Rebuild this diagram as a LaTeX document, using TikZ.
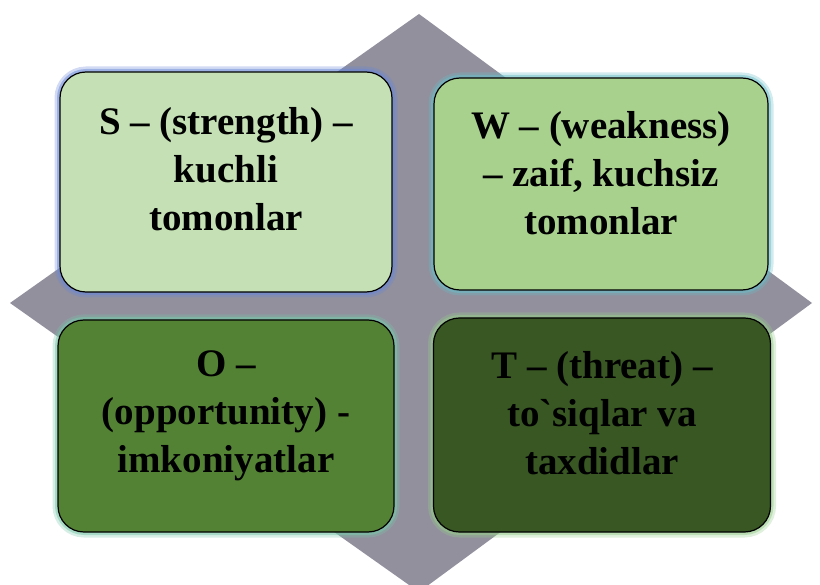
\documentclass[tikz,border=0pt]{standalone}
\usepackage{fontspec}
\newfontfamily\quadfont{Liberation Serif}
\definecolor{diamondgray}{RGB}{146,144,157}
\definecolor{sfill}{RGB}{197,224,180}
\definecolor{wfill}{RGB}{169,209,142}
\definecolor{ofill}{RGB}{84,130,53}
\definecolor{tfill}{RGB}{56,87,35}
\definecolor{sglow}{RGB}{105,135,215}
\definecolor{wglow}{RGB}{105,190,200}
\definecolor{oglow}{RGB}{120,200,170}
\definecolor{tglow}{RGB}{150,205,140}
\tikzset{
  quad/.style={draw=black, line width=1.2pt, rounded corners=26pt, inner sep=0pt},
  quadtext/.style={align=center, font=\quadfont\bfseries\fontsize{39}{48}\selectfont, inner sep=0pt},
  glow/.style={preaction={draw=#1, line width=11pt, opacity=0.3},
               preaction={draw=#1, line width=6pt, opacity=0.5}}
}
\begin{document}
\begin{tikzpicture}[x=1pt,y=-1pt]
            \clip (0,0) rectangle (820,585);
            % grey diamond behind the four boxes
            \fill[diamondgray] (419,14) -- (812,303) -- (419,592) -- (10,303) -- cycle;
            % the four boxes
            \node[quad, glow=sglow, fill=sfill, minimum width=332pt, minimum height=220pt] (s) at (226,182) {};
            \node[quad, glow=wglow, fill=wfill, minimum width=334pt, minimum height=212pt] (w) at (601,184) {};
            \node[quad, glow=oglow, fill=ofill, minimum width=336pt, minimum height=212pt] (o) at (226,426) {};
            \node[quad, glow=tglow, fill=tfill, minimum width=337pt, minimum height=214pt] (t) at (602,425) {};
            % texts
            \node[quadtext] (stext) at ([yshift=13pt]s.center) {S – (strength) –\\kuchli\\tomonlar};
            \node[quadtext] (wtext) at ([yshift=11pt]w.center) {W – (weakness)\\– zaif, kuchsiz\\tomonlar};
            \node[quadtext] (otext) at ([yshift=10pt]o.center) {O –\\(opportunity) -\\imkoniyatlar};
            \node[quadtext] (ttext) at ([yshift=12pt]t.center) {T – (threat) –\\to`siqlar va\\taxdidlar};
        \end{tikzpicture}
\end{document}
